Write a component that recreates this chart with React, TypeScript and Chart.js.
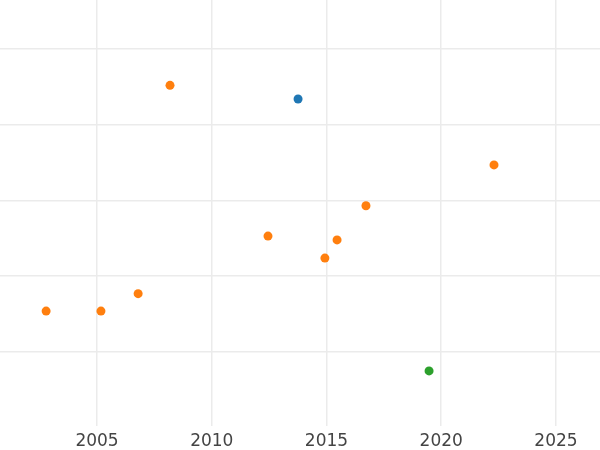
import React, { useEffect, useRef } from "react";
import { Chart, registerables } from "chart.js";

Chart.register(...registerables);

const orangeX = [2008.18, 2022.3, 2016.72, 2012.45, 2015.46, 2014.93, 2006.79, 2002.78, 2005.17];
const orangeY = [4.52, 3.47, 2.93, 2.53, 2.48, 2.24, 1.77, 1.54, 1.54];
const blueX = [2013.76];
const blueY = [4.34];
const greenX = [2019.47];
const greenY = [0.75];
const xTicks = [2005, 2010, 2015, 2020, 2025];
const yTicks = [1, 2, 3, 4, 5];

const pts = (xs: number[], ys: number[]) => xs.map((x, i) => ({ x, y: ys[i] }));

export default function App() {
  const ref = useRef<HTMLCanvasElement>(null);
  useEffect(() => {
    document.body.style.margin = "0";
    const chart = new Chart(ref.current!, {
      type: "scatter",
      data: {
        datasets: [
          { data: pts(orangeX, orangeY), backgroundColor: "#ff7f0e", pointRadius: 4.5, pointBorderWidth: 0 },
          { data: pts(blueX, blueY), backgroundColor: "#1f77b4", pointRadius: 4.5, pointBorderWidth: 0 },
          { data: pts(greenX, greenY), backgroundColor: "#2ca02c", pointRadius: 4.5, pointBorderWidth: 0 },
        ],
      },
      options: {
        responsive: false,
        animation: false,
        layout: { padding: 0, autoPadding: false },
        plugins: { legend: { display: false }, tooltip: { enabled: false } },
        scales: {
          x: {
            type: "linear",
            min: 2000.77,
            max: 2026.92,
            afterBuildTicks: (s: any) => { s.ticks = xTicks.map((v) => ({ value: v })); },
            afterFit: (s: any) => { s.height = 24; },
            grid: { color: "#ebebeb", lineWidth: 1.5, drawTicks: false },
            border: { display: false },
            ticks: {
              padding: 5,
              color: "#444",
              font: { family: "DejaVu Sans", size: 17 },
              callback: (v: any) => String(v),
            },
          },
          y: {
            type: "linear",
            min: 0.023,
            max: 5.647,
            afterBuildTicks: (s: any) => { s.ticks = yTicks.map((v) => ({ value: v })); },
            grid: { color: "#ebebeb", lineWidth: 1.5, drawTicks: false },
            border: { display: false },
            ticks: { display: false },
            afterFit: (s: any) => { s.width = 0; },
          },
        },
      },
    });
    return () => chart.destroy();
  }, []);
  return (
    <div style={{ width: 600, height: 450 }}>
      <canvas ref={ref} width={600} height={450} />
    </div>
  );
}
